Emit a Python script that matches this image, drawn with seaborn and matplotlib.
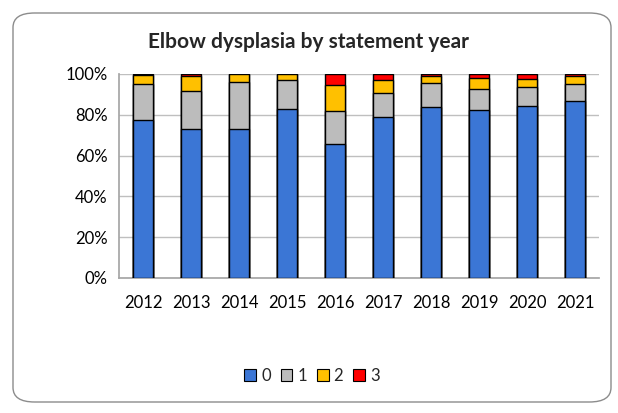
import matplotlib

matplotlib.use("Agg")

import matplotlib.pyplot as plt
import numpy as np
import pandas as pd
import seaborn as sns
from matplotlib.patches import FancyBboxPatch, Patch
from matplotlib.ticker import PercentFormatter

# shares (%) per statement year and grade
years = ["2012", "2013", "2014", "2015", "2016", "2017", "2018", "2019", "2020", "2021"]
grade_0 = [77.3, 72.9, 72.9, 82.7, 65.5, 78.8, 83.7, 82.2, 84.2, 86.6]
grade_1 = [17.7, 18.6, 23.0, 14.2, 16.2, 11.7, 11.7, 10.3, 9.3, 8.4]
grade_2 = [4.5, 7.4, 4.1, 3.1, 12.8, 6.4, 3.5, 5.4, 3.9, 3.9]
grade_3 = [0.5, 1.1, 0.0, 0.0, 5.5, 3.1, 1.1, 2.1, 2.6, 1.1]
grades = ["0", "1", "2", "3"]
colors = ["#3B76D5", "#BCBCBC", "#FFC000", "#FF0000"]

sns.set_theme(style="white")
plt.rcParams["font.family"] = ["Lato", "DejaVu Sans"]

df = pd.DataFrame({"year": years, "0": grade_0, "1": grade_1, "2": grade_2, "3": grade_3})
cum = df[grades].cumsum(axis=1)

fig = plt.figure(figsize=(6.18, 4.13), dpi=100)
ax = fig.add_axes([119 / 618, 1 - 278 / 413, 480 / 618, 204 / 413])

# stacked bars: draw cumulative totals from the top segment down
for g, c in reversed(list(zip(grades, colors))):
    sns.barplot(x=df["year"], y=cum[g], color=c, width=0.4, edgecolor="black",
                linewidth=1.0, saturation=1, ax=ax, zorder=3)

ax.set_ylim(0, 100)
ax.set_xlim(-0.5, len(years) - 0.5)
ax.yaxis.set_major_formatter(PercentFormatter(decimals=0))
ax.set_yticks(np.arange(0, 101, 20))
ax.grid(axis="y", color="#BFBFBF", linewidth=1.0, zorder=0)
ax.set_xlabel("")
ax.set_ylabel("")
for side in ["top", "right"]:
    ax.spines[side].set_visible(False)
ax.spines["left"].set_color("#A6A6A6")
ax.spines["bottom"].set_color("#A6A6A6")
ax.tick_params(axis="both", length=0, labelsize=12, colors="black", pad=8)
ax.tick_params(axis="x", pad=12)

fig.text(0.5, 1 - 42 / 413, "Elbow dysplasia by statement year", ha="center", va="center",
         fontsize=15, fontweight="bold")

handles = [Patch(facecolor=c, edgecolor="black", linewidth=0.8) for c in colors]
fig.legend(handles, grades, loc="center", bbox_to_anchor=(312 / 618, 1 - 376 / 413), ncol=4,
           frameon=False, fontsize=12, handlelength=0.7, handleheight=0.7,
           handletextpad=0.3, columnspacing=0.6)

border = FancyBboxPatch((13 / 618, 1 - 402 / 413), 598 / 618, 389 / 413,
                        boxstyle="round,pad=0,rounding_size=0.035", transform=fig.transFigure,
                        facecolor="none", edgecolor="#8C8C8C", linewidth=1.0)
fig.patches.append(border)

fig.savefig("out.png", dpi=100)
